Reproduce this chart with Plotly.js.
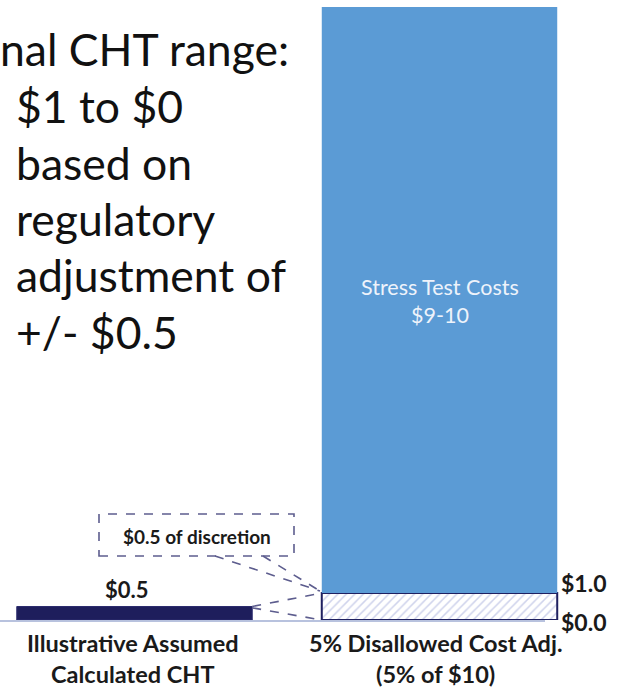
<!DOCTYPE html>
<html>
<head>
<meta charset="utf-8">
<script src="https://cdn.plot.ly/plotly-3.0.1.min.js"></script>
<style>html,body{margin:0;padding:0;background:#fff;}#chart{width:620px;height:694px;}</style>
</head>
<body>
<div id="chart"></div>
<script>
// ---- data ----
const categories = ["Illustrative Assumed Calculated CHT", "5% Disallowed Cost Adj. (5% of $10)"];
const categoryLines = [["Illustrative Assumed", "Calculated CHT"], ["5% Disallowed Cost Adj.", "(5% of $10)"]];
const assumedCHT = [0.5];            // navy bar
const disallowedAdj = [1.0];         // hatched range $0 to $1
const stressBase = [1.0];            // stress test costs start on top of the $1 range
const stressCosts = [9.0];           // $9-10 -> top at $10
const valueLabels = ["$0.5"];
const rangeLabels = ["$1.0", "$0.0"];
const rangeValues = [1.0, 0.0];
const stressLabel = ["Stress Test Costs", "$9-10"];
const calloutText = "$0.5 of discretion";
const noteLines = ["nal CHT range:", "$1 to $0", "based on", "regulatory", "adjustment of", "+/- $0.5"];

// ---- geometry helpers (pixel -> paper) ----
const W = 562, TOP = 7, BOT = 620, H = BOT - TOP;
const px = x => x / W;
const py = y => (BOT - y) / H;
const FONT = "Lato, 'Open Sans', sans-serif";
const barW = 0.772;

const traces = [
  {type: "bar", x: [categories[0]], y: assumedCHT, width: barW, yaxis: "y",
   marker: {color: "#1e1e5c", line: {color: "#2c2c6e", width: 1}}, hoverinfo: "skip"},
  {type: "bar", x: [categories[1]], y: disallowedAdj, width: barW, yaxis: "y",
   marker: {color: "#ffffff", pattern: {shape: "/", fgcolor: "#cfd3ec", bgcolor: "#ffffff", size: 6, solidity: 0.25},
            line: {color: "#1f2060", width: 2}}, hoverinfo: "skip"},
  {type: "bar", x: [categories[1]], y: stressCosts, base: stressBase, width: barW, yaxis: "y2",
   marker: {color: "#5b9bd5", line: {width: 0}}, hoverinfo: "skip"}
];

const annotations = [];
// value label above navy bar
annotations.push({x: categories[0], y: assumedCHT[0], xref: "x", yref: "y", text: valueLabels[0], showarrow: false,
  yanchor: "bottom", yshift: 2, xshift: -8, font: {family: FONT, size: 22, color: "#1a1a1a", weight: 700}});
// range labels at right
rangeLabels.forEach((t, i) => {
  annotations.push({x: px(559), y: rangeValues[i], xref: "paper", yref: "y", text: t, showarrow: false,
    xanchor: "left", yanchor: "middle", yshift: i === 0 ? 10 : -2,
    font: {family: FONT, size: 23, color: "#1a1a1a", weight: 700}});
});
// category labels
categoryLines.forEach((lines, i) => {
  lines.forEach((t, j) => {
    annotations.push({x: categories[i], y: py(j === 0 ? 643 : 674), xref: "x", yref: "paper", text: t, showarrow: false,
      xanchor: "center", yanchor: "middle", xshift: i === 1 ? -4 : -2,
      font: {family: FONT, size: 23.5, color: "#1a1a1a", weight: 700}});
  });
});
// stress label
stressLabel.forEach((t, j) => {
  annotations.push({x: categories[1], y: py(j === 0 ? 287 : 315), xref: "x", yref: "paper", text: t, showarrow: false,
    xanchor: "center", yanchor: "middle", font: {family: FONT, size: 21.5, color: "#eef3fb"}});
});
// callout text
annotations.push({x: px(197), y: py(536), xref: "paper", yref: "paper", text: calloutText, showarrow: false,
  xanchor: "center", yanchor: "middle", font: {family: FONT, size: 19, color: "#1a1a1a", weight: 700}});
// note text
const noteY = [49, 105.5, 162, 218.5, 275, 331.5];
noteLines.forEach((t, j) => {
  annotations.push({x: px(j === 0 ? -2 : 14), y: py(noteY[j]), xref: "paper", yref: "paper", text: t, showarrow: false,
    xanchor: "left", yanchor: "middle", font: {family: FONT, size: 44.5, color: "#111111"}});
});

const dash = {color: "#5d5d8e", width: 1.6, dash: "dash"};
const xr = barW / 2, xl = 1 - barW / 2;
const shapes = [
  {type: "line", xref: "paper", yref: "paper", x0: 0, x1: px(545), y0: py(621), y1: py(621), line: {color: "#b8c2de", width: 2}, layer: "below"},
  {type: "rect", xref: "paper", yref: "paper", x0: px(99), x1: px(294), y0: py(556), y1: py(514), line: dash, fillcolor: "rgba(0,0,0,0)"},
  {type: "line", xref: "paper", yref: "paper", x0: px(215), y0: py(556), x1: px(320), y1: py(591), line: dash},
  {type: "line", xref: "paper", yref: "paper", x0: px(263), y0: py(556), x1: px(320), y1: py(591), line: dash},
  {type: "line", xref: "x", yref: "y", x0: xr, y0: assumedCHT[0], x1: xl, y1: disallowedAdj[0], line: dash},
  {type: "line", xref: "x", yref: "y", x0: xr, y0: assumedCHT[0] * 0.9, x1: xl, y1: 0, line: dash}
];

const layout = {
  width: 620, height: 694,
  margin: {l: 0, r: 620 - W, t: TOP, b: 694 - BOT, pad: 0},
  paper_bgcolor: "#ffffff", plot_bgcolor: "#ffffff",
  showlegend: false, barmode: "overlay",
  xaxis: {type: "category", categoryarray: categories, range: [-134.5 / 305, -134.5 / 305 + W / 305],
          showticklabels: false, ticks: "", showgrid: false, zeroline: false, showline: false},
  yaxis: {range: [0, H / 27], visible: false, showgrid: false, zeroline: false},
  yaxis2: {overlaying: "y", range: [1 - 27 * 9 / 586, 10], visible: false, showgrid: false, zeroline: false},
  annotations: annotations,
  shapes: shapes
};

Plotly.newPlot("chart", traces, layout, {displayModeBar: false, staticPlot: true});
</script>
</body>
</html>
